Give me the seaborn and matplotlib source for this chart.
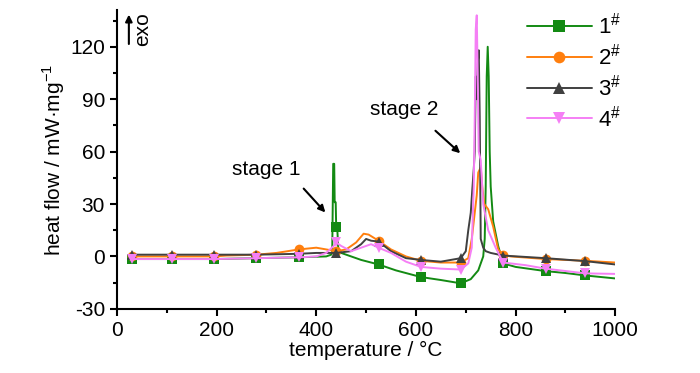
import numpy as np
import pandas as pd
import matplotlib
matplotlib.use("Agg")
import matplotlib.pyplot as plt
import seaborn as sns

# ---- data ----
marker_temps = [30, 110, 195, 280, 365, 440, 525, 610, 690, 775, 860, 940]

t1 = [30, 110, 195, 280, 365, 420, 430, 432, 434, 436, 437, 439, 440, 442, 444, 450, 470, 490, 525, 560, 610,
      650, 690, 710, 725, 735, 738, 740, 742, 744, 746, 748, 750, 755, 765, 775, 800, 860, 900, 940, 1000]
y1 = [-1.5, -1.5, -1.5, -1.0, -0.5, 0, 1, 2, 53, 53, 31, 31, 17, 17, 5, 2, 0, -2, -4.6, -8, -11.8,
      -13.5, -15.4, -13, -8, 0, 10, 40, 103, 120, 103, 60, 40, 20, 6, -4, -6, -8.4, -9.5, -10.9, -12.6]

t2 = [30, 110, 195, 220, 280, 320, 365, 400, 420, 440, 460, 480, 495, 505, 525, 550, 580, 610, 650, 690,
      705, 712, 718, 722, 725, 730, 733, 737, 745, 755, 765, 775, 790, 860, 940, 1000]
y2 = [0, 0, 0, 0.5, 1, 2, 4, 5, 4, 3, 4, 8, 13, 12.5, 9, 4, 0, -2.5, -3.5, -3.5,
      -1, 10, 25, 35, 48, 51, 40, 30, 27, 17, 4, 1, 0, -1.5, -2.5, -3.5]

t3 = [30, 110, 195, 280, 365, 400, 440, 470, 490, 500, 510, 525, 550, 580, 610, 650, 690, 700, 705, 710,
      713, 716, 718, 720, 722, 724, 726, 728, 730, 735, 740, 750, 775, 860, 940, 1000]
y3 = [1, 1, 1, 1, 1.5, 2, 2, 3, 7, 10, 9, 8.5, 3, -1, -2, -3, -1, 3, 15, 25,
      38, 50, 60, 103, 90, 110, 118, 80, 10, 5, 3, 2, 0.5, -1, -2.7, -4.6]

t4 = [30, 110, 195, 280, 365, 400, 420, 435, 440, 450, 470, 490, 510, 525, 550, 580, 610, 650, 690, 705,
      712, 716, 718, 720, 722, 724, 726, 730, 735, 745, 760, 775, 820, 860, 940, 1000]
y4 = [-1.5, -1.5, -1.5, -1, -0.5, 0, 2, 6, 8, 6, 3, 5, 7, 5, 2, -3, -6, -7, -7.5, -4,
      5, 40, 80, 130, 138, 103, 60, 55, 30, 15, 5, -3.5, -5, -7, -9.7, -10]

labels = [r"1$^{\#}$", r"2$^{\#}$", r"3$^{\#}$", r"4$^{\#}$"]
colors = ["#138a13", "#ff7f0e", "#404040", "#f57ff5"]
markers = ["s", "o", "^", "v"]
temps = [t1, t2, t3, t4]
flows = [y1, y2, y3, y4]

# ---- style ----
sns.set_style("ticks")
plt.rcParams["font.family"] = ["Liberation Sans Narrow", "Liberation Sans", "DejaVu Sans"]
plt.rcParams["mathtext.fontset"] = "custom"
plt.rcParams["mathtext.rm"] = "Liberation Sans"
plt.rcParams["axes.unicode_minus"] = False
plt.rcParams["text.color"] = "black"
plt.rcParams["axes.labelcolor"] = "black"
plt.rcParams["xtick.color"] = "black"
plt.rcParams["ytick.color"] = "black"

fig = plt.figure(figsize=(7.0, 3.73), dpi=100)
ax = fig.add_axes([0.167, 0.172, 0.712, 0.801])

for t, y, lab, c, m in zip(temps, flows, labels, colors, markers):
    df = pd.DataFrame({"T": t, "Q": y})
    idx = [i for i, v in enumerate(t) if v in marker_temps]
    sns.lineplot(data=df, x="T", y="Q", ax=ax, color=c, linewidth=1.4,
                 marker=m, markersize=7, markevery=idx, markeredgewidth=0,
                 label=lab, sort=False, estimator=None)

ax.set_xlim(0, 1000)
ax.set_ylim(-30, 141)
ax.set_xticks([0, 200, 400, 600, 800, 1000])
ax.set_xticks([100, 300, 500, 700, 900], minor=True)
ax.set_yticks([-30, 0, 30, 60, 90, 120])
ax.set_yticks([-15, 15, 45, 75, 105, 135], minor=True)
ax.tick_params(axis="both", which="major", direction="out", length=5, width=1.5,
               labelsize=15, color="black", labelcolor="black")
ax.tick_params(axis="both", which="minor", direction="out", length=3, width=1.5, color="black")
for s in ["top", "right"]:
    ax.spines[s].set_visible(False)
for s in ["left", "bottom"]:
    ax.spines[s].set_linewidth(1.5)
    ax.spines[s].set_color("black")

ax.set_xlabel("temperature / °C", fontsize=15, labelpad=1, color="black")
ax.set_ylabel("heat flow / mW·mg$^{-1}$", fontsize=15, labelpad=2, color="black")

# annotations
ax.annotate("", xy=(422, 24), xytext=(371, 40),
            arrowprops=dict(arrowstyle="-|>", color="black", lw=1.5, mutation_scale=10))
ax.text(300, 50, "stage 1", fontsize=15, ha="center", va="center", color="black")
ax.annotate("", xy=(693, 58), xytext=(635, 73),
            arrowprops=dict(arrowstyle="-|>", color="black", lw=1.5, mutation_scale=10))
ax.text(576, 84, "stage 2", fontsize=15, ha="center", va="center", color="black")

ax.annotate("", xy=(24, 140), xytext=(24, 120),
            arrowprops=dict(arrowstyle="-|>", color="black", lw=1.5, mutation_scale=10))
ax.text(52, 130, "exo", fontsize=15, rotation=90, ha="center", va="center", color="black")

leg = ax.legend(loc="upper right", bbox_to_anchor=(1.03, 1.02), frameon=False, fontsize=16,
                handlelength=2.9, labelspacing=0.22, handletextpad=0.3, borderaxespad=0,
                markerscale=1.2)
for txt in leg.get_texts():
    txt.set_color("black")

fig.savefig("out.png", dpi=100)
